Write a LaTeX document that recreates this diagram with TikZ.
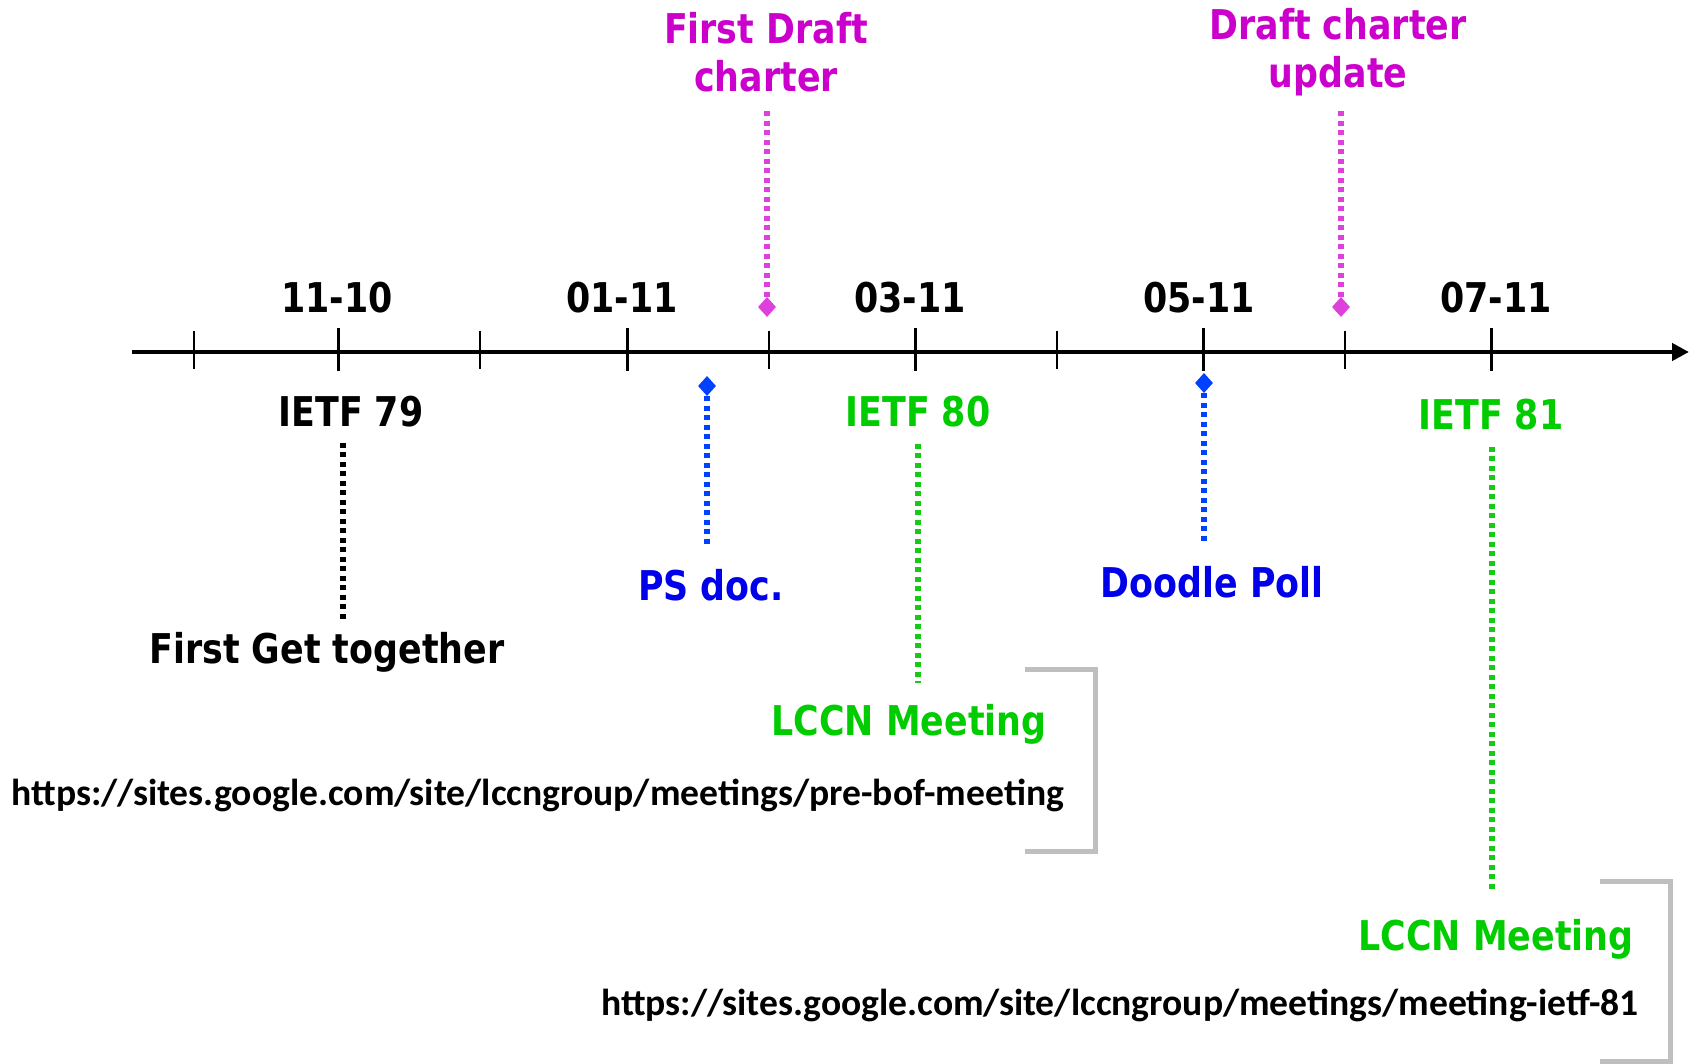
\documentclass[tikz,border=0pt]{standalone}
\usepackage{fontspec}
\usetikzlibrary{arrows.meta,shapes.geometric}
\newfontfamily\labfont{DejaVu Sans}[FakeStretch=0.85]
\newfontfamily\linkfont{Carlito}
\definecolor{magtext}{RGB}{204,0,204}
\definecolor{magline}{RGB}{221,64,221}
\definecolor{bluetext}{RGB}{0,0,235}
\definecolor{blueline}{RGB}{0,64,255}
\definecolor{greentext}{RGB}{0,204,0}
\definecolor{greenline}{RGB}{20,204,20}
\definecolor{bracketgray}{RGB}{191,191,191}
\begin{document}
\begin{tikzpicture}[x=1pt,y=-1pt,
 lab/.style={font=\labfont\bfseries\fontsize{41}{48}\selectfont, inner sep=0pt, anchor=base},
 mlab/.style={lab, align=center, anchor=north},
 link/.style={font=\linkfont\bfseries\fontsize{37.6}{44}\selectfont, inner sep=0pt, anchor=base, text=black},
 dots/.style={line width=6.5pt, dash pattern=on 5pt off 4.5pt},
 dmd/.style={diamond, inner sep=0pt, minimum width=18pt, minimum height=20pt},
 majortick/.style={line width=3pt},
 minortick/.style={line width=1.8pt},
 bracket/.style={draw=bracketgray, line width=5pt}]

\useasboundingbox (0,0) rectangle (1692,1064);
\fill[white] (0,0) rectangle (1692,1064);

% axis
\coordinate (axL) at (132,352);
\coordinate (axR) at (1689,352);
\draw[line width=4.5pt, -{Triangle[length=17pt,width=17pt]}] (axL) -- (axR);
\foreach \x in {194,480,769,1057,1345} \draw[minortick] (\x,331) -- (\x,369);
\foreach \x in {338,627,915,1203,1491} \draw[majortick] (\x,328) -- (\x,371);

% dates
\node[lab] (d1) at (337,313) {11-10};
\node[lab] (d2) at (622,313) {01-11};
\node[lab] (d3) at (910,313) {03-11};
\node[lab] (d4) at (1199,313) {05-11};
\node[lab] (d5) at (1496,313) {07-11};

% magenta
\node[mlab, text=magtext] (fd) at (766,12) {First Draft\\charter};
\node[mlab, text=magtext] (dc) at (1338,8) {Draft charter\\update};
\node[dmd, fill=magline] (m1) at (767,307) {};
\node[dmd, fill=magline] (m2) at (1341,307) {};
\draw[dots, draw=magline, shorten >=19pt] (m1.north) -- (m1.north |- fd.south);
\draw[dots, draw=magline, shorten >=12pt] (m2.north) -- (m2.north |- dc.south);

% blue
\node[dmd, fill=blueline] (b1) at (707,386) {};
\node[dmd, fill=blueline] (b2) at (1204,383) {};
\node[lab, text=bluetext] (ps) at (711,600) {PS doc.};
\node[lab, text=bluetext] (dp) at (1212,597) {Doodle Poll};
\draw[dots, draw=blueline, shorten >=22pt] (b1.south) -- (b1.south |- ps.north);
\draw[dots, draw=blueline, shorten >=23pt] (b2.south) -- (b2.south |- dp.north);

% black
\node[lab] (i79) at (351,427) {IETF 79};
\node[lab] (fgt) at (327,663) {First Get together};
\draw[dots, draw=black, shorten <=15pt, shorten >=9pt] ([xshift=-8pt]i79.south) -- ([xshift=-8pt]i79.south |- fgt.north);

% green
\node[lab, text=greentext] (i80) at (918,427) {IETF 80};
\node[lab, text=greentext] (lm1) at (909,735) {LCCN Meeting};
\draw[dots, draw=greenline, shorten <=16pt, shorten >=21pt] (i80.south) -- (i80.south |- lm1.north);
\node[lab, text=greentext] (i81) at (1491,429) {IETF 81};
\node[lab, text=greentext] (lm2) at (1496,950) {LCCN Meeting};
\draw[dots, draw=greenline, shorten <=17pt, shorten >=26pt] ([xshift=1pt]i81.south) -- ([xshift=1pt]i81.south |- lm2.north);

% links
\node[link] (u1) at (538,805) {https://sites.google.com/site/lccngroup/meetings/pre-bof-meeting};
\node[link] (u2) at (1120,1015) {https://sites.google.com/site/lccngroup/meetings/meeting-ietf-81};

% brackets
\draw[bracket] (1025,669) -- (1095,669) -- (1095,851) -- (1025,851);
\draw[bracket] (1600,881) -- (1670,881) -- (1670,1061) -- (1600,1061);
\end{tikzpicture}
\end{document}
